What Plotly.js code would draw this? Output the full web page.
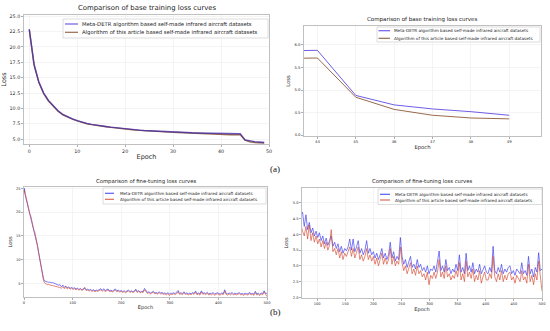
<!DOCTYPE html>
<html><head><meta charset="utf-8">
<script src="https://cdn.plot.ly/plotly-3.0.1.min.js"></script>
<style>html,body{margin:0;padding:0;background:#fff;}#chart{width:550px;height:331px;}</style>
</head><body><div id="chart"></div>
<script>
// ---------- data ----------
const baseEpoch = [0,1,2,3,4,5,6,7,8,9,10,11,12,13,14,15,16,17,18,19,20,21,22,23,24,25,26,27,28,29,30,31,32,33,34,35,36,37,38,39,40,41,42,43,44,45,46,47,48,49];
const baseMeta = [22.9,17.2,14.3,12.5,11.3,10.4,9.6,9.0,8.6,8.3,8.0,7.75,7.55,7.4,7.25,7.15,7.05,6.95,6.85,6.75,6.66,6.58,6.52,6.46,6.40,6.35,6.30,6.26,6.22,6.18,6.14,6.11,6.08,6.05,6.02,6.00,5.98,5.96,5.94,5.92,5.90,5.89,5.88,5.87,5.88,4.88,4.67,4.58,4.52,4.44];
const baseOurs = [22.8,17.0,14.2,12.4,11.2,10.3,9.55,8.95,8.55,8.25,7.95,7.7,7.5,7.35,7.2,7.1,7.0,6.9,6.8,6.7,6.62,6.54,6.48,6.42,6.36,6.31,6.26,6.22,6.18,6.14,6.10,6.06,6.02,5.98,5.94,5.90,5.86,5.82,5.79,5.76,5.74,5.72,5.71,5.70,5.71,4.84,4.57,4.44,4.38,4.36];

const fineEpoch = [0,1,2,4,6,8,10,12,14,16,18,20,22,24,26,28,30,32,34,36,38,40,42,44,46,48,50,53,56,59,62,65,68,71,
74,77,80,83,86,89,92,95,98,101,104,107,110,113,116,119,122,125,128,131,134,137,140,143,146,149,152,155,158,161,
164,167,170,173,176,179,182,185,188,191,194,197,200,203,206,209,212,215,218,221,224,227,230,233,236,239,242,245,248,251,
254,257,260,263,266,269,272,275,278,281,284,287,290,293,296,299,302,305,308,311,314,317,320,323,326,329,332,335,338,341,
344,347,350,353,356,359,362,365,368,371,374,377,380,383,386,389,392,395,398,401,404,407,410,413,416,419,422,425,428,431,
434,437,440,443,446,449,452,455,458,461,464,467,470,473,476,479,482,485,488,491,494,497,500];
const fineMeta = [24.2,25.0,23.8,23.0,22.0,21.2,20.6,19.8,19.0,18.1,17.3,16.5,15.8,15.0,14.0,12.8,11.5,10.3,9.1,7.9,6.8,6.0,5.5,5.4,5.3,5.35,5.2,5.25,5.1,5.15,5.0,4.9,4.85,4.6,
4.70,4.25,4.62,4.15,4.38,4.05,4.20,3.95,4.10,3.90,
4.05,3.80,3.95,3.70,3.88,3.65,3.80,3.95,3.62,3.75,
3.55,3.70,3.45,3.62,3.40,3.55,3.48,3.60,3.85,3.50,
3.85,3.45,3.60,3.80,3.40,3.55,3.35,3.50,3.80,3.40,
3.55,3.35,3.45,3.25,3.40,3.20,3.35,3.55,3.25,3.40,
3.20,3.35,3.75,3.25,3.45,3.15,3.30,3.20,3.90,3.30,
3.05,3.20,2.95,3.10,3.30,2.95,3.05,2.90,3.20,2.95,
3.05,2.85,2.95,2.80,3.00,2.75,2.90,2.85,3.00,2.80,
3.10,3.47,2.85,3.00,2.80,3.20,2.85,2.95,2.75,2.90,
2.80,3.05,2.85,3.35,2.80,2.95,2.75,3.40,2.85,3.00,
2.80,3.10,2.75,2.90,2.80,3.05,2.75,2.85,3.00,2.80,
2.75,2.95,2.80,3.62,2.85,2.75,2.95,2.80,3.05,2.75,
2.90,2.80,2.95,3.00,2.75,2.85,2.70,2.90,2.80,2.75,
3.10,2.75,2.85,2.70,3.30,2.75,2.90,2.65,2.95,2.80,
3.42,2.85,2.90];
const fineOurs = [24.0,24.6,24.2,23.2,22.3,21.0,20.4,19.6,19.2,18.0,17.4,16.3,15.9,15.1,13.9,12.7,11.4,10.2,9.0,7.8,6.6,5.7,5.1,4.9,4.8,4.7,4.75,4.6,4.55,4.5,4.45,4.4,4.35,4.3,
4.10,3.95,4.25,3.85,4.30,3.80,4.05,3.75,3.95,3.70,
3.85,3.60,3.80,3.55,3.75,3.50,3.65,4.15,3.45,3.55,
3.35,3.55,3.25,3.45,3.20,3.40,3.30,3.45,3.60,3.30,
3.55,3.25,3.45,3.60,3.20,3.35,3.15,3.30,3.55,3.20,
3.35,3.15,3.30,3.05,3.25,3.00,3.20,3.40,3.05,3.25,
3.05,3.20,3.55,3.05,3.30,3.00,3.15,3.05,3.60,3.10,
2.85,3.00,2.75,2.95,3.10,2.75,2.90,2.70,3.00,2.75,
2.85,2.65,2.75,2.55,2.80,2.40,2.70,2.60,2.80,2.60,
2.80,3.20,2.65,2.80,2.60,3.00,2.65,2.75,2.55,2.70,
2.60,2.85,2.65,3.10,2.55,2.75,2.50,3.15,2.65,2.80,
2.60,2.90,2.50,2.70,2.55,2.85,2.45,2.65,2.80,2.55,
2.55,2.75,2.60,3.30,2.65,2.50,2.75,2.55,2.85,2.50,
2.70,2.55,2.75,2.80,2.55,2.65,2.45,2.70,2.60,2.50,
2.85,2.55,2.65,2.45,3.05,2.50,2.70,2.40,2.75,2.55,
3.15,2.60,2.20];

const nameMeta = 'Meta-DETR algorithm based self-made infrared aircraft datasets';
const nameOurs = 'Algorithm of this article based self-made infrared aircraft datasets';
const titleBase = 'Comparison of base training loss curves';
const titleFine = 'Comparison of fine-tuning loss curves';

// ---------- helpers ----------
const W = 550, H = 331;
const px = x => x / W;
const py = y => 1 - y / H;
const FONT = 'DejaVu Sans, Liberation Sans, sans-serif';
const TXT = '#2b2b2b';

const C = {
  metaA: 'rgba(85,65,225,0.85)', oursA: 'rgba(135,80,45,0.85)',
  metaB: 'rgba(50,50,240,0.8)', oursB: 'rgba(210,65,40,0.78)'
};

function axis(dom, range, opts) {
  return Object.assign({
    domain: dom, range: range, showgrid: true, gridcolor: '#ececec', gridwidth: 0.6, color: TXT,
    zeroline: false, showline: true, mirror: true, linecolor: '#b0b0b0', linewidth: 0.8,
    ticks: 'outside', ticklen: 2, tickwidth: 0.6, tickcolor: '#777',
    tickfont: {family: FONT, size: 4.5, color: TXT}, automargin: false
  }, opts);
}

const traces = [
  {x: baseEpoch, y: baseOurs, xaxis: 'x', yaxis: 'y', mode: 'lines', name: nameOurs, line: {color: C.oursA, width: 1.4}},
  {x: baseEpoch, y: baseMeta, xaxis: 'x', yaxis: 'y', mode: 'lines', name: nameMeta, line: {color: 'rgba(70,45,170,0.8)', width: 1.4}},
  {x: baseEpoch, y: baseMeta, xaxis: 'x2', yaxis: 'y2', mode: 'lines', name: nameMeta, line: {color: C.metaA, width: 1}},
  {x: baseEpoch, y: baseOurs, xaxis: 'x2', yaxis: 'y2', mode: 'lines', name: nameOurs, line: {color: C.oursA, width: 1}},
  {x: fineEpoch, y: fineMeta, xaxis: 'x3', yaxis: 'y3', mode: 'lines', name: nameMeta, line: {color: C.metaB, width: 0.8}},
  {x: fineEpoch, y: fineOurs, xaxis: 'x3', yaxis: 'y3', mode: 'lines', name: nameOurs, line: {color: C.oursB, width: 0.8}},
  {x: fineEpoch, y: fineMeta, xaxis: 'x4', yaxis: 'y4', mode: 'lines', name: nameMeta, line: {color: C.metaB, width: 0.8}},
  {x: fineEpoch, y: fineOurs, xaxis: 'x4', yaxis: 'y4', mode: 'lines', name: nameOurs, line: {color: C.oursB, width: 0.8}}
];

const tf = (s) => ({family: FONT, size: s, color: TXT});

const layout = {
  width: W, height: H, margin: {l: 0, r: 0, t: 0, b: 0},
  paper_bgcolor: '#fff', plot_bgcolor: '#fff', showlegend: false,
  xaxis: axis([px(24), px(269)], [-1.1, 50], {anchor: 'y', tickvals: [0,10,20,30,40,50], tickfont: tf(4.8),
    title: {text: 'Epoch', font: tf(6.5), standoff: 1}}),
  yaxis: axis([py(144), py(15)], [4.2, 25.2], {anchor: 'x', tickvals: [5,7.5,10,12.5,15,17.5,20,22.5,25], tickformat: '.1f', tickfont: tf(4.8),
    title: {text: 'Loss', font: tf(6.5), standoff: 2}}),
  xaxis2: axis([px(304), px(541)], [43.65, 49.83], {anchor: 'y2', tickvals: [44,45,46,47,48,49], tickfont: tf(3.8),
    title: {text: 'Epoch', font: tf(5.3), standoff: 1}}),
  yaxis2: axis([py(136), py(26)], [3.98, 6.42], {anchor: 'x2', tickvals: [4,4.5,5,5.5,6], tickformat: '.1f', tickfont: tf(3.8),
    title: {text: 'Loss', font: tf(5.3), standoff: 3}}),
  xaxis3: axis([px(24), px(267)], [0, 500], {anchor: 'y3', tickvals: [0,100,200,300,400,500], tickfont: tf(3.6),
    title: {text: 'Epoch', font: tf(5.1), standoff: 1}}),
  yaxis3: axis([py(297), py(187)], [2.1, 25.3], {anchor: 'x3', tickvals: [5,10,15,20,25], tickfont: tf(3.6),
    title: {text: 'Loss', font: tf(5.1), standoff: 3}}),
  xaxis4: axis([px(302), px(542)], [73, 500], {anchor: 'y4', tickvals: [100,150,200,250,300,350,400,450,500], tickfont: tf(3.6),
    title: {text: 'Epoch', font: tf(5.1), standoff: 1}}),
  yaxis4: axis([py(298), py(188)], [1.98, 5.47], {anchor: 'x4', tickvals: [2,2.5,3,3.5,4,4.5,5], tickformat: '.1f', tickfont: tf(3.6),
    title: {text: 'Loss', font: tf(5.1), standoff: 3}}),
  annotations: [],
  shapes: []
};

function subTitle(text, cx, cy, size) {
  layout.annotations.push({text: text, x: px(cx), y: py(cy), xref: 'paper', yref: 'paper',
    xanchor: 'center', yanchor: 'middle', showarrow: false, font: {family: FONT, size: size, color: '#222'}});
}
subTitle(titleBase, 147, 8, 6.9);
subTitle(titleBase, 422, 19.5, 5.5);
subTitle(titleFine, 146, 181, 5.3);
subTitle(titleFine, 422, 181, 5.3);

function legendBox(x0, x1, y0, y1, ly1, ly2, lx0, lx1, tx, size, cm, co) {
  layout.shapes.push({type: 'rect', xref: 'paper', yref: 'paper', x0: px(x0), x1: px(x1), y0: py(y1), y1: py(y0),
    fillcolor: 'rgba(255,255,255,0.92)', line: {color: '#cfcfcf', width: 0.7}, layer: 'above'});
  layout.shapes.push({type: 'line', xref: 'paper', yref: 'paper', x0: px(lx0), x1: px(lx1), y0: py(ly1), y1: py(ly1),
    line: {color: cm, width: 1.2}, layer: 'above'});
  layout.shapes.push({type: 'line', xref: 'paper', yref: 'paper', x0: px(lx0), x1: px(lx1), y0: py(ly2), y1: py(ly2),
    line: {color: co, width: 1.2}, layer: 'above'});
  [[nameMeta, ly1], [nameOurs, ly2]].forEach(([t, ly]) => {
    layout.annotations.push({text: t, x: px(tx), y: py(ly), xref: 'paper', yref: 'paper', xanchor: 'left', yanchor: 'middle',
      showarrow: false, font: {family: FONT, size: size, color: '#222'}});
  });
}
legendBox(63, 268, 19, 38, 24, 32.3, 65, 78, 80, 5.3, C.metaA, C.oursA);
legendBox(377, 540, 27, 42, 30.7, 38.3, 378.5, 390, 391.5, 4.2, C.metaA, C.oursA);
legendBox(103, 266, 188, 204, 193.3, 199.3, 105, 114, 117.5, 4.15, C.metaB, C.oursB);
legendBox(378, 542, 189, 204.5, 194.3, 200, 380, 390, 393, 4.15, C.metaB, C.oursB);

layout.annotations.push({text: '(a)', x: px(275), y: py(169), xref: 'paper', yref: 'paper', showarrow: false,
  font: {family: 'Liberation Serif, serif', size: 9, color: '#111'}});
layout.annotations.push({text: '(b)', x: px(275), y: py(319), xref: 'paper', yref: 'paper', showarrow: false,
  font: {family: 'Liberation Serif, serif', size: 9, color: '#111'}});

Plotly.newPlot('chart', traces, layout, {staticPlot: true, displayModeBar: false});
</script></body></html>
